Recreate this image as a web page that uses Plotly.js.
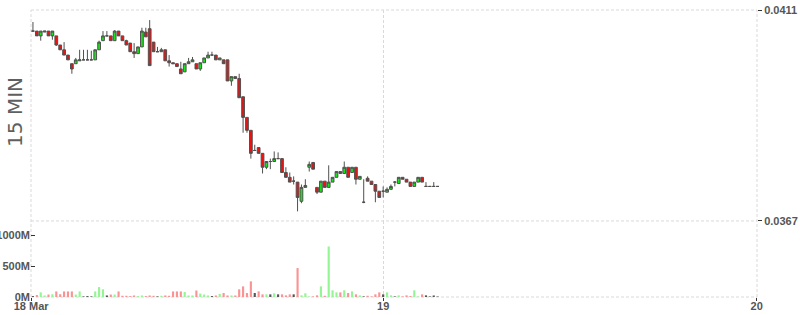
<!DOCTYPE html>
<html>
<head>
<meta charset="utf-8">
<script src="https://cdn.plot.ly/plotly-3.0.1.min.js"></script>
<style>html,body{margin:0;padding:0;background:#fff;}#chart{width:800px;height:315px;}</style>
</head>
<body>
<div id="chart"></div>
<script>
// ---- data ----
var startTime = '2024-03-18T01:30:00';
var intervalMinutes = 15;
var openPrices = [0.04066,0.04066,0.04056,0.04064,0.04066,0.04056,0.04056,0.04037,0.04027,0.04016,
  0.03998,0.03998,0.04004,0.04006,0.04006,0.04006,0.04006,0.04027,0.04046,0.04056,
  0.04056,0.04046,0.04066,0.04056,0.04046,0.04041,0.04023,0.04019,0.04033,0.04064,
  0.04071,0.04043,0.04023,0.04023,0.04027,0.04004,0.04000,0.03998,0.03987,0.03981,
  0.03998,0.04002,0.03998,0.03987,0.04000,0.04010,0.04016,0.04016,0.04006,0.04006,
  0.04006,0.03962,0.03971,0.03967,0.03929,0.03886,0.03859,0.03817,0.03823,0.03811,
  0.03782,0.03794,0.03794,0.03800,0.03800,0.03771,0.03761,0.03753,0.03751,0.03711,
  0.03740,0.03782,0.03792,0.03740,0.03730,0.03753,0.03740,0.03751,0.03761,0.03773,
  0.03769,0.03782,0.03771,0.03782,0.03757,0.03709,0.03759,0.03753,0.03746,0.03732,
  0.03732,0.03730,0.03736,0.03751,0.03748,0.03761,0.03757,0.03751,0.03742,0.03751,
  0.03761,0.03742,0.03742,0.03742,0.03742];
var highPrices = [0.04085,0.04066,0.04066,0.04066,0.04066,0.04066,0.04056,0.04037,0.04043,0.04016,
  0.03998,0.04010,0.04027,0.04027,0.04027,0.04025,0.04027,0.04046,0.04066,0.04066,
  0.04056,0.04068,0.04066,0.04056,0.04048,0.04041,0.04041,0.04033,0.04073,0.04073,
  0.04089,0.04043,0.04033,0.04031,0.04027,0.04016,0.04000,0.03998,0.04002,0.03998,
  0.04010,0.04012,0.03998,0.04000,0.04010,0.04023,0.04023,0.04016,0.04010,0.04006,
  0.04006,0.03971,0.03971,0.03977,0.03929,0.03886,0.03859,0.03829,0.03823,0.03811,
  0.03794,0.03800,0.03815,0.03813,0.03800,0.03782,0.03771,0.03763,0.03751,0.03746,
  0.03757,0.03794,0.03792,0.03740,0.03753,0.03753,0.03786,0.03761,0.03773,0.03773,
  0.03794,0.03782,0.03782,0.03782,0.03763,0.03757,0.03763,0.03753,0.03746,0.03732,
  0.03742,0.03740,0.03746,0.03753,0.03761,0.03761,0.03757,0.03751,0.03751,0.03761,
  0.03761,0.03751,0.03742,0.03751,0.03742];
var lowPrices = [0.04066,0.04056,0.04046,0.04064,0.04056,0.04048,0.04035,0.04027,0.04016,0.04006,
  0.03977,0.03998,0.04004,0.04006,0.04006,0.04006,0.04006,0.04027,0.04046,0.04056,
  0.04046,0.04046,0.04056,0.04046,0.04037,0.04023,0.04010,0.04019,0.04033,0.04054,
  0.03994,0.04023,0.04023,0.04023,0.04004,0.03992,0.03998,0.03992,0.03977,0.03981,
  0.03998,0.04002,0.03987,0.03983,0.04000,0.04010,0.04016,0.04006,0.04006,0.03998,
  0.03962,0.03952,0.03967,0.03927,0.03854,0.03854,0.03800,0.03817,0.03811,0.03769,
  0.03778,0.03778,0.03794,0.03800,0.03771,0.03761,0.03751,0.03746,0.03690,0.03707,
  0.03740,0.03773,0.03778,0.03726,0.03730,0.03740,0.03740,0.03751,0.03761,0.03769,
  0.03769,0.03761,0.03771,0.03746,0.03757,0.03707,0.03753,0.03746,0.03709,0.03719,
  0.03719,0.03730,0.03736,0.03742,0.03748,0.03757,0.03751,0.03742,0.03742,0.03751,
  0.03751,0.03742,0.03742,0.03742,0.03742];
var closePrices = [0.04066,0.04056,0.04066,0.04066,0.04056,0.04066,0.04037,0.04027,0.04016,0.04006,
  0.03987,0.04006,0.04006,0.04006,0.04006,0.04006,0.04027,0.04043,0.04056,0.04056,
  0.04046,0.04066,0.04056,0.04046,0.04037,0.04023,0.04019,0.04033,0.04066,0.04054,
  0.03994,0.04023,0.04023,0.04027,0.04004,0.04000,0.03998,0.03992,0.03977,0.03998,
  0.04002,0.04006,0.03987,0.04000,0.04010,0.04016,0.04016,0.04006,0.04010,0.03998,
  0.03962,0.03971,0.03967,0.03927,0.03886,0.03859,0.03811,0.03817,0.03811,0.03782,
  0.03794,0.03794,0.03800,0.03800,0.03771,0.03761,0.03751,0.03753,0.03719,0.03740,
  0.03744,0.03788,0.03778,0.03730,0.03753,0.03740,0.03751,0.03761,0.03773,0.03769,
  0.03782,0.03761,0.03782,0.03757,0.03763,0.03709,0.03753,0.03746,0.03732,0.03719,
  0.03732,0.03736,0.03742,0.03751,0.03761,0.03757,0.03751,0.03742,0.03751,0.03761,
  0.03751,0.03742,0.03742,0.03742,0.03742];
var volumesM = [15,32,75,25,40,45,90,45,90,90,
  90,40,90,10,15,10,90,160,125,25,
  40,40,90,20,20,15,25,15,25,15,
  25,20,10,20,25,20,90,90,90,80,
  25,25,105,55,40,25,15,25,50,65,
  25,25,25,124,172,65,253,65,91,43,
  43,43,60,43,43,27,43,43,468,27,
  60,10,10,27,172,20,817,108,75,75,
  108,65,91,43,27,10,20,10,43,75,
  43,75,27,10,27,10,27,16,108,10,
  43,27,10,25,8];
var xTickVals = ['2024-03-18T01:23:00','2024-03-19T00:00:00','2024-03-20T00:00:00'];
var xTickText = ['18 Mar','19','20'];
var priceTickVals = [0.0367, 0.0411];
var priceTickText = ['0.0367','0.0411'];
var volTickVals = [0, 500, 1000];
var volTickText = ['0M','500M','1000M'];
var chartTitle = '15 MIN';

// ---- build ----
function pad(n){return (n<10?'0':'')+n;}
var t0 = new Date(startTime+'Z').getTime();
var times = openPrices.map(function(_,i){
  var d = new Date(t0 + i*intervalMinutes*60000);
  return d.getUTCFullYear()+'-'+pad(d.getUTCMonth()+1)+'-'+pad(d.getUTCDate())+' '+pad(d.getUTCHours())+':'+pad(d.getUTCMinutes());
});
var volColors = openPrices.map(function(o,i){
  var c = closePrices[i];
  return c>o ? '#93f593' : (c<o ? '#fa9393' : '#555555');
});
function bold(a){return a.map(function(s){return '<b>'+s+'</b>';});}

var tickFont = {family:'Liberation Sans, Arial, sans-serif', size:11, color:'#555'};
var gridDash = '3px,2px';
var gridColor = '#d9d9d9';
var xRange = ['2024-03-18T01:22:30','2024-03-20T00:01:00'];
var yRange = [0.0367,0.0411];

var candle = {
  type:'candlestick', x:times, open:openPrices, high:highPrices, low:lowPrices, close:closePrices,
  xaxis:'x', yaxis:'y',
  increasing:{line:{color:'#505050', width:1}, fillcolor:'#15e615'},
  decreasing:{line:{color:'#505050', width:1}, fillcolor:'#f01010'},
  whiskerwidth:0, hoverinfo:'none', showlegend:false
};
var vol = {
  type:'bar', x:times, y:volumesM, xaxis:'x', yaxis:'y2',
  marker:{color:volColors, line:{width:0}}, hoverinfo:'none', showlegend:false
};

function dashedLine(xref, yref, x0, x1, y0, y1){
  return {type:'line', xref:xref, yref:yref, x0:x0, x1:x1, y0:y0, y1:y1, layer:'below',
          line:{color:gridColor, width:1, dash:gridDash}};
}

var layout = {
  width:800, height:315,
  margin:{l:31, r:43, t:10, b:18, pad:0},
  paper_bgcolor:'#fff', plot_bgcolor:'#fff',
  showlegend:false,
  bargap:0.45, boxgap:0.0,
  xaxis:{
    type:'date', anchor:'y2',
    range:xRange,
    tickmode:'array', tickvals:xTickVals, ticktext:bold(xTickText),
    ticks:'outside', ticklen:3, tickcolor:'#333', tickwidth:1,
    ticklabelstandoff:-4,
    showgrid:true, gridcolor:gridColor, griddash:gridDash, gridwidth:1,
    showline:false, zeroline:false,
    rangeslider:{visible:false},
    tickfont:tickFont
  },
  yaxis:{
    domain:[0.265,1], anchor:'x', side:'right',
    range:yRange,
    tickmode:'array', tickvals:priceTickVals, ticktext:bold(priceTickText),
    ticks:'outside', ticklen:4, tickcolor:'#333',
    showgrid:true, gridcolor:gridColor, griddash:gridDash,
    zeroline:false, showline:false,
    tickfont:tickFont
  },
  yaxis2:{
    domain:[0,0.265], anchor:'x', side:'left',
    range:[0,1230],
    tickmode:'array', tickvals:volTickVals, ticktext:bold(volTickText),
    ticks:'inside', ticklen:4, tickcolor:'#333',
    showgrid:false, zeroline:false, showline:false,
    tickfont:tickFont
  },
  shapes:[
    dashedLine('paper','paper',0,1,0,0),
    dashedLine('paper','paper',0,1,1,1),
    dashedLine('paper','paper',0,1,0.265,0.265),
    dashedLine('paper','paper',0,0,0,1),
    dashedLine('paper','paper',1,1,0,1)
  ],
  annotations:[
    {text:chartTitle, xref:'paper', yref:'paper', x:-0.022, y:0.645,
     xanchor:'center', yanchor:'middle', textangle:-90, showarrow:false,
     font:{family:'DejaVu Sans, sans-serif', size:20, color:'#5f5f5f'}}
  ]
};

Plotly.newPlot('chart', [candle, vol], layout, {staticPlot:true, displayModeBar:false});
</script>
</body>
</html>
